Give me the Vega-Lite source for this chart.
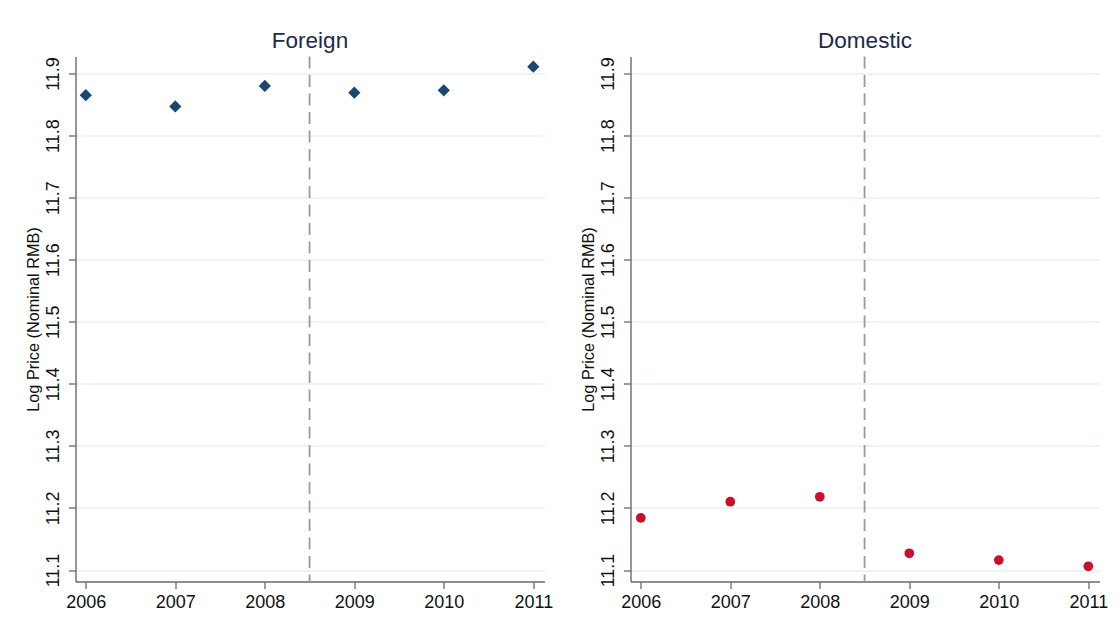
{
  "$schema": "https://vega.github.io/schema/vega-lite/v6.json",
  "background": "white",
  "padding": {"left": 25.5, "top": 29.5, "right": 5, "bottom": 5},
  "bounds": "flush",
  "spacing": 86,
  "datasets": {
    "foreign": [
      {"year": 2006, "logprice": 11.865},
      {"year": 2007, "logprice": 11.847},
      {"year": 2008, "logprice": 11.880},
      {"year": 2009, "logprice": 11.869},
      {"year": 2010, "logprice": 11.873},
      {"year": 2011, "logprice": 11.911}
    ],
    "domestic": [
      {"year": 2006, "logprice": 11.184},
      {"year": 2007, "logprice": 11.210},
      {"year": 2008, "logprice": 11.218},
      {"year": 2009, "logprice": 11.127},
      {"year": 2010, "logprice": 11.116},
      {"year": 2011, "logprice": 11.106}
    ],
    "policy": [{"year": 2008.5}]
  },
  "hconcat": [
    {
      "title": {"text": "Foreign"},
      "width": 469,
      "height": 525,
      "layer": [
        {
          "data": {"name": "policy"},
          "mark": {"type": "rule", "color": "#9a9a9a", "strokeWidth": 1.8, "strokeDash": [12, 6.5]},
          "encoding": {
            "x": {"field": "year", "type": "quantitative", "scale": {"domain": [2005.885, 2011.125], "nice": false, "zero": false}}
          }
        },
        {
          "data": {"name": "foreign"},
          "mark": {"type": "point", "shape": "diamond", "filled": true, "size": 150, "color": "#1a476f", "opacity": 1},
          "encoding": {
            "x": {
              "field": "year", "type": "quantitative",
              "scale": {"domain": [2005.885, 2011.125], "nice": false, "zero": false},
              "axis": {"values": [2006, 2007, 2008, 2009, 2010, 2011], "format": "d", "title": null, "grid": false}
            },
            "y": {
              "field": "logprice", "type": "quantitative",
              "scale": {"domain": [11.0815, 11.9274], "nice": false, "zero": false},
              "axis": {"values": [11.1, 11.2, 11.3, 11.4, 11.5, 11.6, 11.7, 11.8, 11.9], "format": ".1f", "title": "Log Price (Nominal RMB)"}
            }
          }
        }
      ]
    },
    {
      "title": {"text": "Domestic"},
      "width": 469,
      "height": 525,
      "layer": [
        {
          "data": {"name": "policy"},
          "mark": {"type": "rule", "color": "#9a9a9a", "strokeWidth": 1.8, "strokeDash": [12, 6.5]},
          "encoding": {
            "x": {"field": "year", "type": "quantitative", "scale": {"domain": [2005.885, 2011.125], "nice": false, "zero": false}}
          }
        },
        {
          "data": {"name": "domestic"},
          "mark": {"type": "point", "shape": "circle", "filled": true, "size": 95, "color": "#c8102e", "opacity": 1},
          "encoding": {
            "x": {
              "field": "year", "type": "quantitative",
              "scale": {"domain": [2005.885, 2011.125], "nice": false, "zero": false},
              "axis": {"values": [2006, 2007, 2008, 2009, 2010, 2011], "format": "d", "title": null, "grid": false}
            },
            "y": {
              "field": "logprice", "type": "quantitative",
              "scale": {"domain": [11.0815, 11.9274], "nice": false, "zero": false},
              "axis": {"values": [11.1, 11.2, 11.3, 11.4, 11.5, 11.6, 11.7, 11.8, 11.9], "format": ".1f", "title": "Log Price (Nominal RMB)"}
            }
          }
        }
      ]
    }
  ],
  "config": {
    "font": "Liberation Sans",
    "view": {"stroke": null},
    "title": {"fontSize": 22.5, "fontWeight": "normal", "color": "#1c2a48", "offset": 3.5, "anchor": "middle", "font": "Liberation Sans"},
    "axis": {
      "domainColor": "#6a6a6a",
      "domainWidth": 1.4,
      "tickColor": "#6a6a6a",
      "tickWidth": 1.3,
      "tickSize": 7,
      "labelFont": "Liberation Sans",
      "labelFontSize": 18,
      "labelColor": "#111111",
      "labelPadding": 5,
      "titleFont": "Liberation Sans",
      "titleFontSize": 16.3,
      "titleFontWeight": "normal",
      "titleColor": "#111111",
      "gridColor": "#e6f0f1",
      "gridWidth": 1.6,
      "labelOverlap": false,
      "labelFlush": false
    },
    "axisY": {
      "grid": true,
      "labelAngle": -90,
      "labelAlign": "center",
      "labelBaseline": "bottom",
      "labelPadding": 6,
      "titlePadding": 3
    },
    "axisX": {"labelPadding": 5}
  }
}
